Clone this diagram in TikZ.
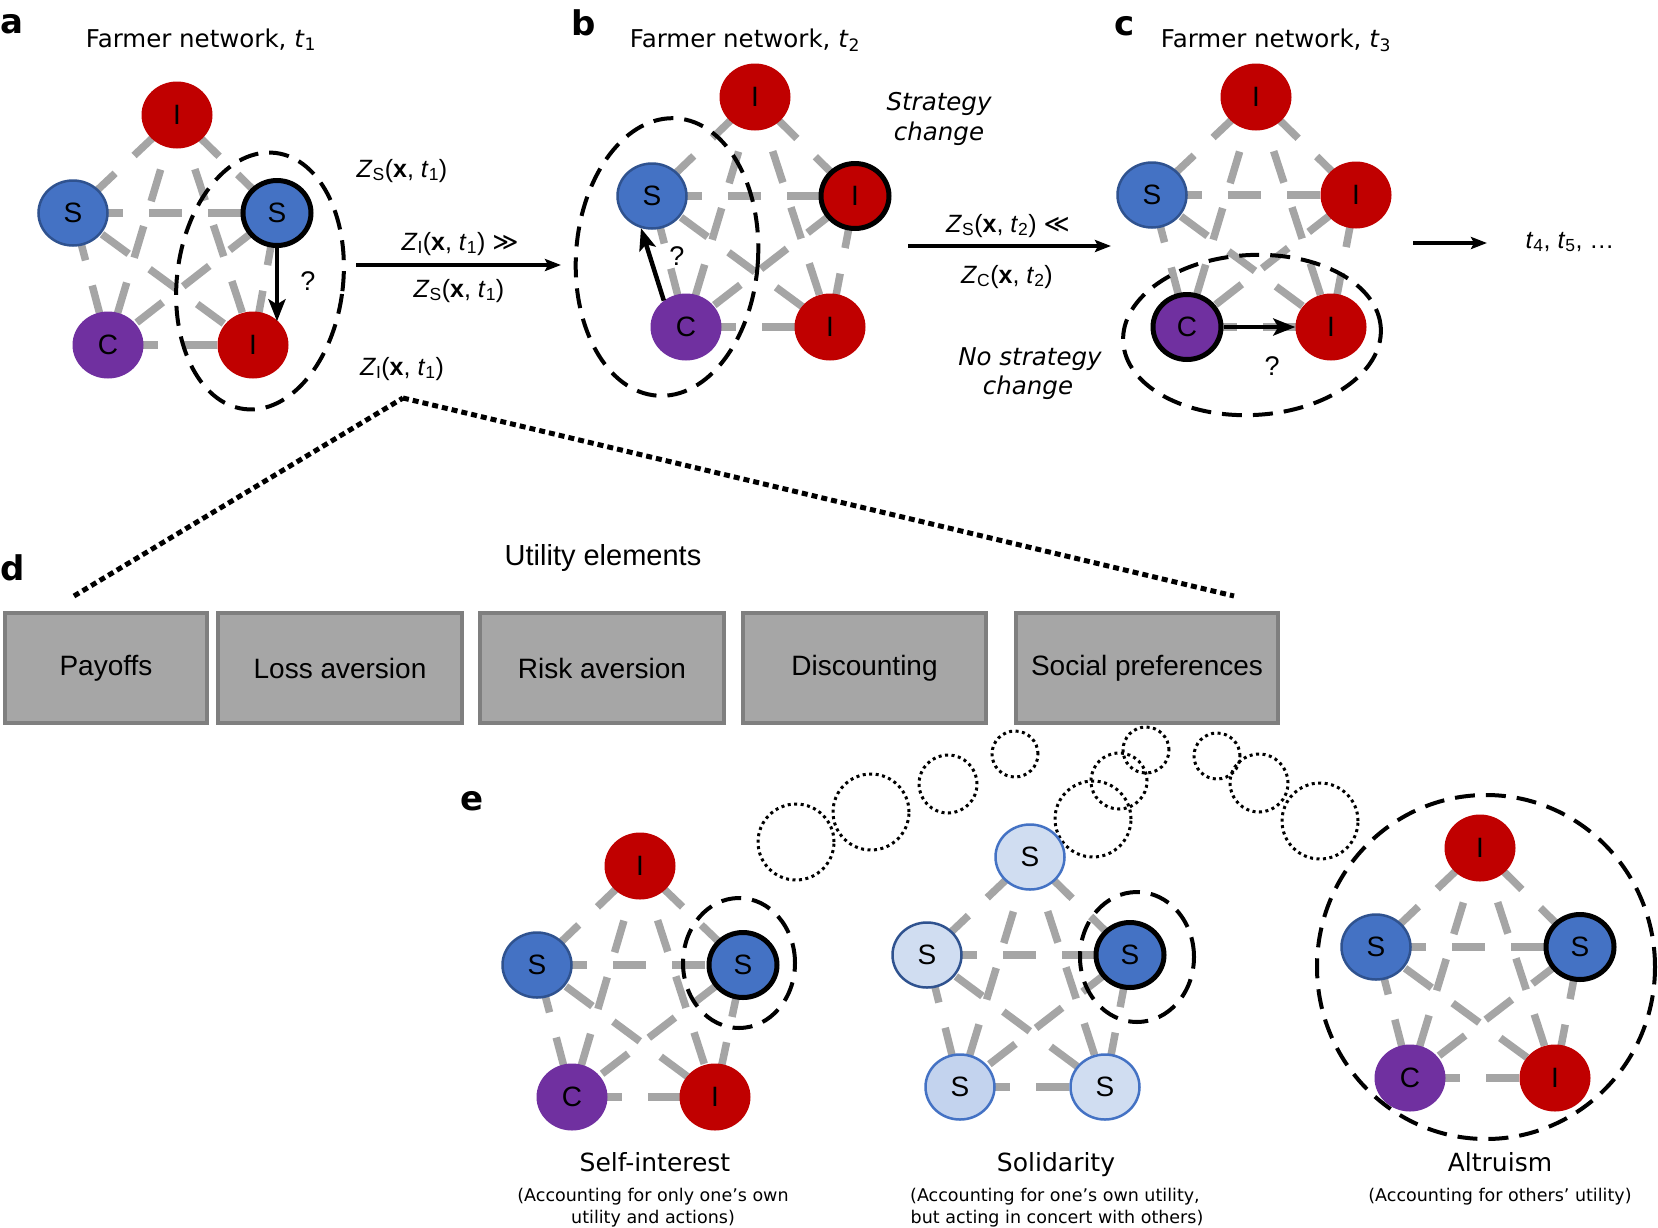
\documentclass[tikz,border=0pt]{standalone}
\usepackage{fontspec}
\setmainfont{DejaVu Sans}
\newfontfamily\lib{Liberation Sans}
\newfontfamily\dv{DejaVu Sans}
\usetikzlibrary{arrows.meta,shapes.geometric,backgrounds,calc}
\pgfdeclarelayer{bgzero}
\pgfsetlayers{bgzero,background,main}

\definecolor{nred}{HTML}{C00000}
\definecolor{nblue}{HTML}{4472C4}
\definecolor{nblueb}{HTML}{2F528F}
\definecolor{npurple}{HTML}{7030A0}
\definecolor{egray}{HTML}{A5A5A5}
\definecolor{lblue}{HTML}{D0DDF1}
\definecolor{lbluetwo}{HTML}{C3D3EE}
\definecolor{boxfill}{HTML}{A6A6A6}
\definecolor{boxline}{HTML}{7F7F7F}

\newcommand\fs[1]{\fontsize{#1pt}{#1pt}\selectfont}
\newcommand\zlab[2]{\textit{Z}\textsubscript{#1}(\textbf{x}, \textit{t}\textsubscript{#2})}

\tikzset{
 agent/.style={ellipse, minimum width=71pt, minimum height=67pt, inner sep=0pt, font=\lib\fs{28}},
 redag/.style={agent, fill=nred},
 blueag/.style={agent, fill=nblue, draw=nblueb, line width=2.5pt, minimum width=69pt, minimum height=65pt},
 purpag/.style={agent, fill=npurple},
 lightag/.style={agent, fill=lblue, draw=nblue, line width=2.5pt, minimum width=69pt, minimum height=65pt},
 focal/.style={draw=black, line width=5pt, minimum width=68pt, minimum height=65pt},
 edge/.style={draw=egray, line width=7.5pt, dash pattern=on 33pt off 26pt},
 ring/.style={ellipse, draw=black, line width=4pt, dash pattern=on 20pt off 11pt, inner sep=0pt},
 dotline/.style={draw=black, line width=5pt, dash pattern=on 6pt off 4pt},
 bubble/.style={circle, draw=black, line width=3pt, dash pattern=on 3pt off 3.5pt, inner sep=0pt},
 fatarrow/.style={draw=black, line width=4.5pt, -{Stealth[length=22pt,width=17pt,inset=5pt]}},
 bigarrow/.style={draw=black, line width=3.3pt, -{Stealth[length=16pt,width=12pt,inset=3pt]}},
 ubox/.style={draw=boxline, fill=boxfill, line width=4.5pt, minimum height=110pt, inner sep=0pt, font=\lib\fs{28}},
 plabel/.style={anchor=base west, inner sep=0pt, font=\dv\bfseries\fs{34}},
 title/.style={anchor=base, inner sep=0pt, font=\dv\fs{24.5}},
 zl/.style={anchor=base, inner sep=0pt, font=\lib\fs{25}},
 qm/.style={anchor=base, inner sep=0pt, font=\lib\fs{27}},
 itl/.style={anchor=base, inner sep=0pt, font=\dv\itshape\fs{24.5}},
 capt/.style={anchor=base, inner sep=0pt, font=\dv\fs{25}},
 capsmall/.style={anchor=base, inner sep=0pt, font=\dv\fs{17.5}}
}

\newcommand\kfive[1]{%
 \begin{pgfonlayer}{background}
 \foreach \u/\v/\ph in {1/2/33pt,1/3/33pt,1/4/2pt,1/5/2pt,2/3/42pt,2/4/43pt,2/5/23pt,3/4/32pt,3/5/39pt,4/5/42pt}{\draw[edge, dash phase=\ph] (#1\u.center) -- (#1\v.center);}
 \end{pgfonlayer}}

\begin{document}
\begin{tikzpicture}[x=1pt,y=-1pt]
\begin{pgfonlayer}{bgzero}
\fill[white] (0,0) rectangle (1658,1227);
\end{pgfonlayer}
\useasboundingbox (0,0) rectangle (1658,1227);

% panel letters
\node[plabel] (la) at (0,33) {a};
\node[plabel] (lb) at (571,35) {b};
\node[plabel] (lc) at (1114,35) {c};
\node[plabel] (ld) at (0,580) {d};
\node[plabel] (le) at (460,810) {e};

% titles
\node[title] (ta) at (201,47) {Farmer network, \textit{t}\textsubscript{1}};
\node[title] (tb) at (745,47) {Farmer network, \textit{t}\textsubscript{2}};
\node[title] (tc) at (1276,47) {Farmer network, \textit{t}\textsubscript{3}};

% ---------- panel a
\node[redag] (a1) at (177,115) {I};
\node[blueag] (a2) at (73,213) {S};
\node[blueag,focal] (a3) at (277,213) {S};
\node[purpag] (a4) at (108,345) {C};
\node[redag] (a5) at (253,345) {I};
\kfive{a}
\node[ring, minimum width=166pt, minimum height=258pt, rotate=-7] (ea) at (260,281) {};
\draw[fatarrow, shorten >=-10pt] (a3.south) -- (a3.south |- a5.north);
\node[qm] (qa) at (308,290) {?};

% labels between a and b
\coordinate (ab1) at (356,265);
\coordinate (ab2) at (561,265);
\draw[bigarrow] (ab1) -- (ab2);
\node[zl] (za1) at (402,177) {\zlab{S}{1}};
\node[zl] (za2) at (460,250) {\zlab{I}{1} {\dv ≫}};
\node[zl] (za3) at (459,297) {\zlab{S}{1}};
\node[zl] (za4) at (402,375) {\zlab{I}{1}};

% ---------- panel b
\node[redag] (b1) at (755,97) {I};
\node[blueag] (b2) at (652,196) {S};
\node[redag,focal] (b3) at (855,196) {I};
\node[purpag] (b4) at (686,327) {C};
\node[redag] (b5) at (830,327) {I};
\kfive{b}
\node[ring, minimum width=182pt, minimum height=278pt, rotate=-4] (eb) at (667,257) {};
\draw[fatarrow] (b4.130) -- (b2.-109);
\node[qm] (qb) at (677,265) {?};
\node[itl] (st1) at (939,110) {Strategy};
\node[itl] (st2) at (939,140) {change};

% labels between b and c
\coordinate (bc1) at (908,246);
\coordinate (bc2) at (1111,246);
\draw[bigarrow] (bc1) -- (bc2);
\node[zl] (zb1) at (1008,232) {\zlab{S}{2} {\dv ≪}};
\node[zl] (zb2) at (1007,283) {\zlab{C}{2}};
\node[itl] (ns1) at (1030,365) {No strategy};
\node[itl] (ns2) at (1028,394) {change};

% ---------- panel c
\node[redag] (c1) at (1256,97) {I};
\node[blueag] (c2) at (1152,195) {S};
\node[redag] (c3) at (1356,195) {I};
\node[purpag,focal] (c4) at (1187,327) {C};
\node[redag] (c5) at (1331,327) {I};
\kfive{c}
\node[ring, minimum width=258pt, minimum height=160pt, rotate=3] (ec) at (1252,335) {};
\draw[fatarrow] (c4.east) -- (c5.west);
\node[qm] (qc) at (1272,375) {?};
\coordinate (ct1) at (1413,243);
\coordinate (ct2) at (1487,243);
\draw[bigarrow, line width=4pt] (ct1) -- (ct2);
\node[zl] (tl) at (1570,248) {\textit{t}\textsubscript{4}, \textit{t}\textsubscript{5}, …};

% ---------- panel d
\coordinate (apex) at (403,398);
\coordinate (dl) at (74,596);
\coordinate (dr) at (1234,596);
\draw[dotline] (dl) -- (apex);
\draw[dotline] (apex) -- (dr);
\node[anchor=base, inner sep=0pt, font=\lib\fs{29}] (ue) at (603,565) {Utility elements};
\node[ubox, minimum width=202pt] (d1) at (106,668) {Payoffs};
\node[ubox, minimum width=244pt] (d2) at (340,668) {Loss aversion};
\node[ubox, minimum width=244pt] (d3) at (602,668) {Risk aversion};
\node[ubox, minimum width=243pt] (d4) at (864.5,668) {Discounting};
\node[ubox, minimum width=262pt] (d5) at (1147,668) {Social preferences};

% thought bubbles
\node[bubble, minimum size=76pt] (u1) at (796,842) {};
\node[bubble, minimum size=76pt] (u2) at (871,812) {};
\node[bubble, minimum size=58pt] (u3) at (948,784) {};
\node[bubble, minimum size=46pt] (u4) at (1015,754) {};
\node[bubble, minimum size=46pt] (v1) at (1146,750) {};
\node[bubble, minimum size=56pt] (v2) at (1119,781) {};
\node[bubble, minimum size=76pt] (v3) at (1093,819) {};
\node[bubble, minimum size=46pt] (w1) at (1217,756) {};
\node[bubble, minimum size=58pt] (w2) at (1259,783) {};
\node[bubble, minimum size=76pt] (w3) at (1320,821) {};

% ---------- panel e: self-interest
\node[redag] (p1) at (640,866) {I};
\node[blueag] (p2) at (537,965) {S};
\node[blueag,focal] (p3) at (743,965) {S};
\node[purpag] (p4) at (572,1097) {C};
\node[redag] (p5) at (715,1097) {I};
\kfive{p}
\node[ring, minimum width=112pt, minimum height=130pt] (ep) at (739,963) {};
\node[capt] (cp1) at (655,1171) {Self-interest};
\node[capsmall] (cp2) at (653,1201) {(Accounting for only one’s own};
\node[capsmall] (cp3) at (653,1223) {utility and actions)};

% solidarity
\node[lightag] (q1) at (1030,857) {S};
\node[lightag, draw=nblueb] (q2) at (927,955) {S};
\node[blueag,focal] (q3) at (1130,955) {S};
\node[lightag, fill=lbluetwo] (q4) at (960,1087) {S};
\node[lightag] (q5) at (1105,1087) {S};
\kfive{q}
\node[ring, minimum width=114pt, minimum height=130pt] (eq) at (1137,957) {};
\node[capt] (cq1) at (1056,1171) {Solidarity};
\node[capsmall] (cq2) at (1055,1201) {(Accounting for one’s own utility,};
\node[capsmall] (cq3) at (1057,1223) {but acting in concert with others)};

% altruism
\node[redag] (r1) at (1480,848) {I};
\node[blueag] (r2) at (1376,947) {S};
\node[blueag,focal] (r3) at (1580,947) {S};
\node[purpag] (r4) at (1410,1078) {C};
\node[redag] (r5) at (1555,1078) {I};
\kfive{r}
\node[ring, minimum width=338pt, minimum height=344pt] (er) at (1486,967) {};
\node[capt] (cr1) at (1500,1171) {Altruism};
\node[capsmall] (cr2) at (1500,1201) {(Accounting for others’ utility)};
\end{tikzpicture}
\end{document}
